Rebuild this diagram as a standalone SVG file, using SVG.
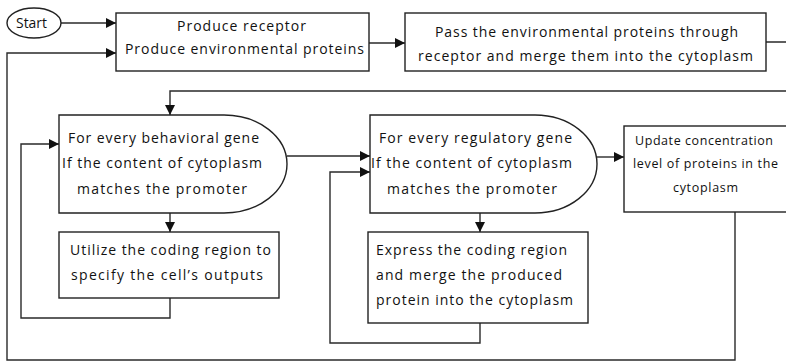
<svg xmlns="http://www.w3.org/2000/svg" width="786" height="364" viewBox="0 0 786 364">
<defs>
<style>
.n{fill:#fff;stroke:#222;stroke-width:1.4}
.t{font-family:"Open Sans","Liberation Sans",sans-serif;font-size:14px;fill:#111}
.s{font-size:12.5px}
.c{fill:none;stroke:#2a2a2a;stroke-width:1.4}
</style>
<marker id="ah" markerUnits="userSpaceOnUse" markerWidth="11" markerHeight="10" refX="10" refY="5" orient="auto">
<path d="M0,0 L10,5 L0,10 Z" fill="#111"/>
</marker>
</defs>
<rect width="786" height="364" fill="#fff"/>
<g id="connectors">
<path class="c" d="M61,23 H116" marker-end="url(#ah)"/>
<path class="c" d="M369,43 H405" marker-end="url(#ah)"/>
<path class="c" d="M766,42 H792 V91 H170 V115" marker-end="url(#ah)"/>
<path class="c" d="M287,156 H370" marker-end="url(#ah)"/>
<path class="c" d="M170,213 V232" marker-end="url(#ah)"/>
<path class="c" d="M170,298 V318 H21 V144 H59" marker-end="url(#ah)"/>
<path class="c" d="M480,213 V232" marker-end="url(#ah)"/>
<path class="c" d="M480,323 V343 H330 V172 H370" marker-end="url(#ah)"/>
<path class="c" d="M597,157 H624" marker-end="url(#ah)"/>
<path class="c" d="M735,212 V360 H7 V53 H116" marker-end="url(#ah)"/>
</g>
<g id="start">
<ellipse class="n" cx="34" cy="23" rx="27" ry="15"/>
<text class="t" x="16" y="28" textLength="31" lengthAdjust="spacingAndGlyphs">Start</text>
</g>
<g id="produce">
<rect class="n" x="116" y="13" width="253" height="58"/>
<text class="t" x="177" y="31" textLength="129" lengthAdjust="spacing">Produce receptor</text>
<text class="t" x="125" y="54" textLength="239" lengthAdjust="spacing">Produce environmental proteins</text>
</g>
<g id="pass">
<rect class="n" x="405" y="13" width="361" height="58"/>
<text class="t" x="435" y="37" textLength="303" lengthAdjust="spacing">Pass the environmental proteins through</text>
<text class="t" x="418" y="61" textLength="335" lengthAdjust="spacing">receptor and merge them into the cytoplasm</text>
</g>
<g id="behavioral">
<path class="n" d="M59,115 H224 A63,49 0 0 1 224,213 H59 Z"/>
<text class="t" x="68" y="143" textLength="191" lengthAdjust="spacing">For every behavioral gene</text>
<text class="t" x="62" y="168" textLength="200" lengthAdjust="spacing">If the content of cytoplasm</text>
<text class="t" x="77" y="194" textLength="170" lengthAdjust="spacing">matches the promoter</text>
</g>
<g id="regulatory">
<path class="n" d="M370,115 H535 A62,49 0 0 1 535,213 H370 Z"/>
<text class="t" x="379" y="143" textLength="193" lengthAdjust="spacing">For every regulatory gene</text>
<text class="t" x="371" y="168" textLength="201" lengthAdjust="spacing">If the content of cytoplasm</text>
<text class="t" x="387" y="194" textLength="170" lengthAdjust="spacing">matches the promoter</text>
</g>
<g id="update">
<rect class="n" x="624" y="126" width="170" height="86"/>
<text class="t s" x="635" y="145" textLength="138" lengthAdjust="spacing">Update concentration</text>
<text class="t s" x="633" y="168" textLength="145" lengthAdjust="spacing">level of proteins in the</text>
<text class="t s" x="673" y="192" textLength="65" lengthAdjust="spacing">cytoplasm</text>
</g>
<g id="utilize">
<rect class="n" x="59" y="232" width="220" height="66"/>
<text class="t" x="70" y="255" textLength="201" lengthAdjust="spacing">Utilize the coding region to</text>
<text class="t" x="71" y="280" textLength="192" lengthAdjust="spacing">specify the cell’s outputs</text>
</g>
<g id="express">
<rect class="n" x="368" y="232" width="220" height="91"/>
<text class="t" x="376" y="255" textLength="191" lengthAdjust="spacing">Express the coding region</text>
<text class="t" x="376" y="280" textLength="186" lengthAdjust="spacing">and merge the produced</text>
<text class="t" x="376" y="305" textLength="197" lengthAdjust="spacing">protein into the cytoplasm</text>
</g>
</svg>
